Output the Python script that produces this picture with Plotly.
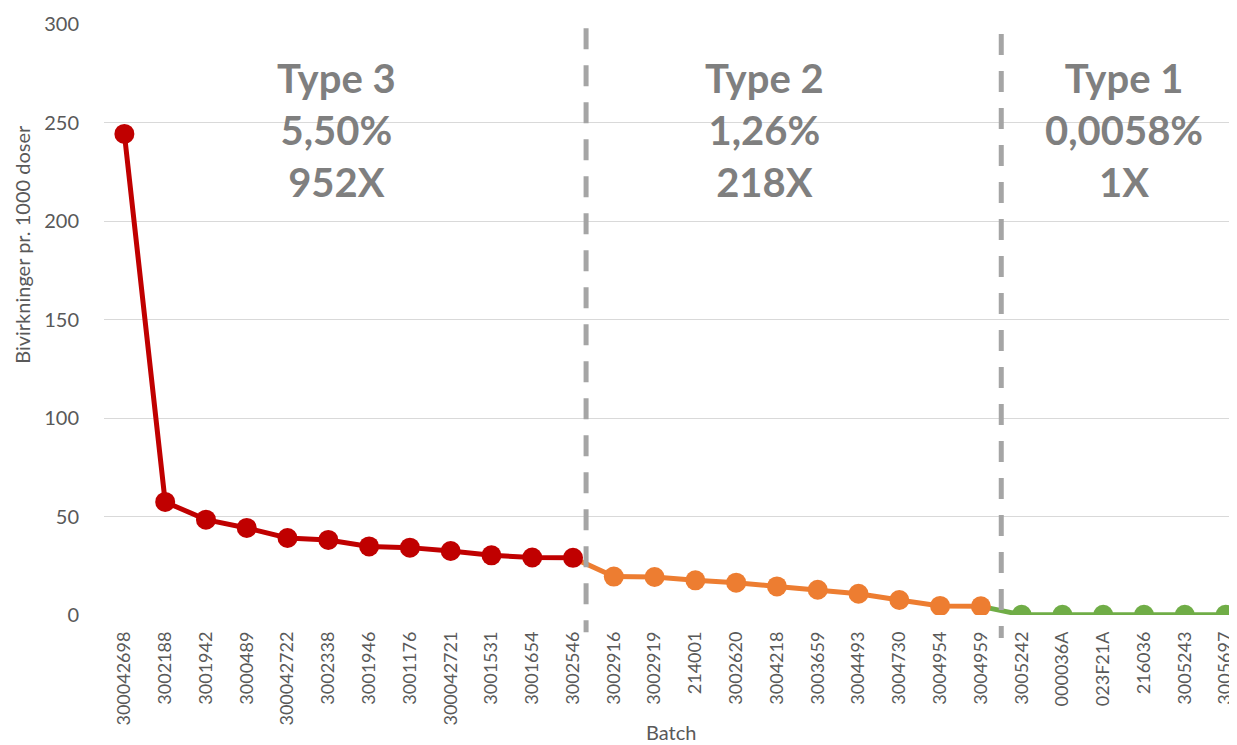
import plotly.graph_objects as go

type3_batches = ["300042698", "3002188", "3001942", "3000489", "300042722", "3002338",
                 "3001946", "3001176", "300042721", "3001531", "3001654", "3002546"]
type3_values = [244.2, 57.4, 48.4, 44.2, 39.1, 38.1, 34.8, 34.2, 32.5, 30.3, 29.2, 29.0]

type2_batches = ["3002916", "3002919", "214001", "3002620", "3004218", "3003659",
                 "3004493", "3004730", "3004954", "3004959"]
type2_values = [19.5, 19.3, 17.6, 16.4, 14.5, 12.8, 10.8, 7.6, 4.6, 4.4]

type1_batches = ["3005242", "000036A", "023F21A", "216036", "3005243", "3005697"]
type1_values = [0.1, 0.1, 0.1, 0.1, 0.1, 0.1]

group_titles = ["Type 3<br>5,50%<br>952X", "Type 2<br>1,26%<br>218X", "Type 1<br>0,0058%<br>1X"]
group_label_pos = [5.2, 15.7, 24.5]
divider_pos = [11.32, 21.5]
divider_top = [0.993, 0.983]
divider_bottom = [-0.029, -0.039]

RED, ORANGE, GREEN = "#C00000", "#ED7D31", "#70AD47"
FONT = "Lato"

all_batches = type3_batches + type2_batches + type1_batches

fig = go.Figure()

# connectors (drawn in the colour of the following series)
fig.add_trace(go.Scatter(x=[type3_batches[-1], type2_batches[0]],
                         y=[type3_values[-1], type2_values[0]],
                         mode="lines", line=dict(color=ORANGE, width=5),
                         showlegend=False, hoverinfo="skip"))
fig.add_trace(go.Scatter(x=[type2_batches[-1], type1_batches[0]],
                         y=[type2_values[-1], type1_values[0]],
                         mode="lines", line=dict(color=GREEN, width=5),
                         showlegend=False, hoverinfo="skip"))

for xs, ys, c, name in [(type3_batches, type3_values, RED, "Type 3"),
                        (type2_batches, type2_values, ORANGE, "Type 2"),
                        (type1_batches, type1_values, GREEN, "Type 1")]:
    fig.add_trace(go.Scatter(x=xs, y=ys, mode="lines+markers", name=name,
                             line=dict(color=c, width=5),
                             marker=dict(color=c, size=20),
                             showlegend=False))

for d, t, b in zip(divider_pos, divider_top, divider_bottom):
    fig.add_shape(type="line", xref="x", yref="paper", x0=d, x1=d, y0=t, y1=b,
                  line=dict(color="#A5A5A5", width=5, dash="21px,16px"), layer="above")

for txt, xp in zip(group_titles, group_label_pos):
    fig.add_annotation(x=xp, y=0.953, xref="x", yref="paper", text="<b>" + txt + "</b>",
                       showarrow=False, yanchor="top", align="center",
                       font=dict(family=FONT, size=40, color="#7F7F7F"))

# axis titles as annotations for precise placement
fig.add_annotation(x=0.5, y=-0.198, xref="paper", yref="paper", text="Batch",
                   showarrow=False, xanchor="center", yanchor="middle",
                   font=dict(family=FONT, size=20, color="#595959"))
fig.add_annotation(x=-0.0724, y=0.628, xref="paper", yref="paper",
                   text="Bivirkninger pr. 1000 doser", textangle=-90,
                   showarrow=False, xanchor="center", yanchor="middle",
                   font=dict(family=FONT, size=20, color="#595959"))

fig.update_layout(
    width=1229, height=737,
    margin=dict(l=96, r=0, t=16, b=130),
    paper_bgcolor="white", plot_bgcolor="white",
    font=dict(family=FONT, color="#595959"),
    xaxis=dict(type="category", categoryorder="array", categoryarray=all_batches,
               range=[-0.5, 27.28], tickangle=-90, tickfont=dict(size=18, color="#595959"),
               showgrid=False, showline=False, zeroline=False, ticks="",
               ticklabelstandoff=12, automargin=False),
    yaxis=dict(range=[0, 300], dtick=50, tickfont=dict(size=20, color="#595959"),
               showgrid=True, gridcolor="#D9D9D9", gridwidth=1, zeroline=False,
               showline=False, ticks="", ticklabelstandoff=24, automargin=False),
)

fig.write_html("out.html")
